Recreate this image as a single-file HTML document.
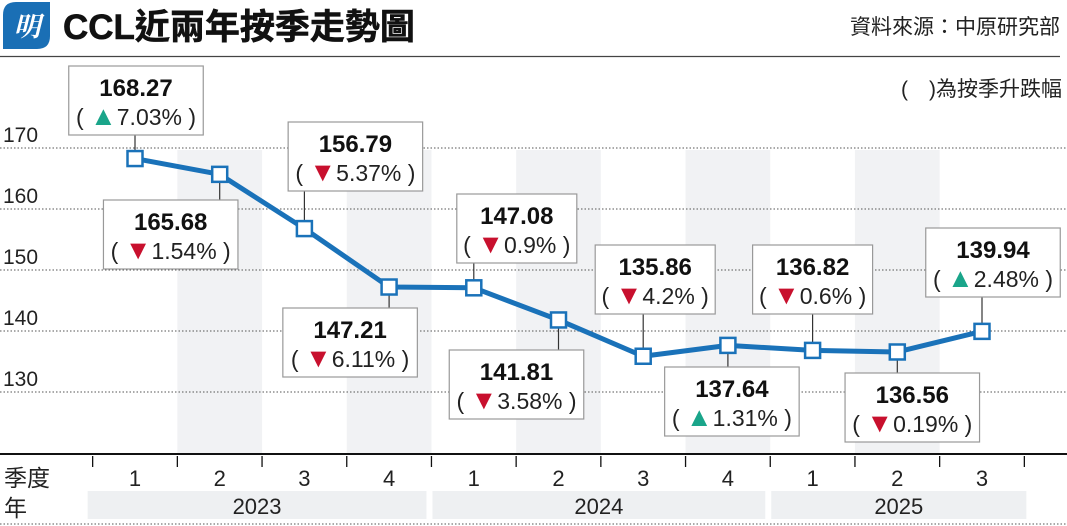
<!DOCTYPE html>
<html><head><meta charset="utf-8"><style>
html,body{margin:0;padding:0;background:#fff;}
svg{display:block;font-family:"Liberation Sans","Noto Sans CJK TC",sans-serif;}
</style></head><body>
<svg id="chart" width="1067" height="526" viewBox="0 0 1067 526" xmlns="http://www.w3.org/2000/svg">
  <g>
    <path d="M16 2 H50 V36 Q50 49 37 49 H3 V15 Q3 2 16 2 Z" fill="#1a6fb5"/>
    <text x="27" y="36" font-size="27" font-weight="bold" fill="#fff" text-anchor="middle" font-style="italic" font-family="Noto Serif CJK SC, serif">明</text>
    <text x="63" y="39" font-size="35" font-weight="bold" fill="#111" stroke="#111" stroke-width="0.6">CCL近兩年按季走勢圖</text>
    <text x="1060" y="34" font-size="21" fill="#222" text-anchor="end">資料來源：中原研究部</text>
    <line x1="0" y1="56.5" x2="1060" y2="56.5" stroke="#444" stroke-width="1.3"/>
    <text x="1062" y="96" font-size="21" fill="#222" text-anchor="end">(　)為按季升跌幅</text>
  </g>
  <g id="bands"></g>
  <g id="grid"></g>
  <g id="axis"></g>
  <g id="connectors"></g>
  <g id="series"></g>
  <g id="labels"></g>
</svg>
<script>
const quarters = ["1","2","3","4","1","2","3","4","1","2","3"];
const years = ["2023","2024","2025"];
const yearCounts = [4,4,3];
const values = [168.27,165.68,156.79,147.21,147.08,141.81,135.86,137.64,136.82,136.56,139.94];
const changes = ["7.03%","1.54%","5.37%","6.11%","0.9%","3.58%","4.2%","1.31%","0.6%","0.19%","2.48%"];
const changeDir = [1,-1,-1,-1,-1,-1,-1,1,-1,-1,1];
const yTicks = [170,160,150,140,130];

// layout
const labelSide = [-1,1,-1,1,-1,1,-1,1,-1,1,-1];
const labelShift = [1,-49,51,-39,43,-42,12,4,0,15,11];
const labelTop = [66,200,122,308,194,350,245,367,245,373,228];

const NS="http://www.w3.org/2000/svg";
const x0=135, dx=84.7;
const xS = i => x0 + i*dx;
const yS = v => 148 + (170 - v)*6.1;
const axisY=454;
function mk(tag, attrs, parent){const e=document.createElementNS(NS,tag);for(const k in attrs)e.setAttribute(k,attrs[k]);parent.appendChild(e);return e;}
const g=id=>document.getElementById(id);

quarters.forEach((q,i)=>{ if(i%2===1){
  const b=mk('rect',{x:xS(i)-dx/2,y:150,width:dx,height:axisY-150,fill:'#f1f2f4'},g('bands'));
  
  
}});
yTicks.forEach(t=>{
  const l=mk('line',{x1:0,x2:1067,y1:yS(t),y2:yS(t),stroke:'#555','stroke-width':1,'stroke-dasharray':'1.5,2'},g('grid'));
  
  
  const tx=mk('text',{x:3,y:yS(t)-6,'font-size':21,fill:'#222'},g('grid'));
  tx.textContent=t;
  
  
});
const ax=mk('line',{x1:0,x2:1067,y1:axisY,y2:axisY,stroke:'#111','stroke-width':2},g('axis'));


for(let i=0;i<=quarters.length;i++){
  const tk=mk('line',{x1:xS(i)-dx/2,x2:xS(i)-dx/2,y1:456,y2:467,stroke:'#111','stroke-width':1.3},g('axis'));
  
  
}
quarters.forEach((q,i)=>{
  const t=mk('text',{x:xS(i),y:486,'font-size':22,fill:'#222','text-anchor':'middle'},g('axis'));
  t.textContent=q;
  
  
});
const qt=mk('text',{x:4,y:486,'font-size':23,fill:'#222'},g('axis'));qt.textContent='季度';


const yt=mk('text',{x:4,y:516,'font-size':23,fill:'#222'},g('axis'));yt.textContent='年';


let start=0;
years.forEach((y,j)=>{
  const last = j===years.length-1;
  const xa=xS(start)-dx/2 + (j>0?1:-5);
  const xb=xS(start+yearCounts[j]-1)+dx/2 + (last?2:-5);
  const r=mk('rect',{x:xa,y:491,width:xb-xa,height:28,fill:'#eef0f2'},g('axis'));
  
  
  const t=mk('text',{x:(xa+xb)/2,y:514,'font-size':22,fill:'#222','text-anchor':'middle'},g('axis'));
  t.textContent=y;
  
  
  start+=yearCounts[j];
});
const bl=mk('line',{x1:0,x2:1067,y1:524,y2:524,stroke:'#555','stroke-width':1,'stroke-dasharray':'1.5,2'},g('axis'));



const pts=values.map((v,i)=>xS(i)+','+yS(v)).join(' ');
const pl=mk('polyline',{points:pts,fill:'none',stroke:'#1a72b9','stroke-width':5,'stroke-linejoin':'round'},g('series'));


values.forEach((v,i)=>{
  const m=mk('rect',{x:xS(i)-7.5,y:yS(v)-7.5,width:15,height:15,fill:'#fff',stroke:'#1a72b9','stroke-width':2.5},g('series'));
  
  
});
values.forEach((v,i)=>{
  const px=xS(i), py=yS(v);
  const w = 62 + changes[i].length*14.5;
  const cx = px + labelShift[i];
  const top = labelTop[i], h=69;
  const c = labelSide[i]<0 ? mk('line',{x1:px,x2:px,y1:top+h,y2:py,stroke:'#333','stroke-width':1.2},g('connectors'))
                           : mk('line',{x1:px,x2:px,y1:py,y2:top,stroke:'#333','stroke-width':1.2},g('connectors'));
  
  
  const grp=mk('g',{},g('labels'));
  
  
  mk('rect',{x:cx-w/2,y:top,width:w,height:h,fill:'#fff',stroke:'#999','stroke-width':1.2},grp);
  const t1=mk('text',{x:cx,y:top+30,'font-size':24,'font-weight':'bold',fill:'#111','text-anchor':'middle'},grp);
  t1.textContent=v.toFixed(2);
  const t2=mk('text',{x:cx,y:top+59,'font-size':23,fill:'#222','text-anchor':'middle'},grp);
  const up=changeDir[i]>0;
  const s1=document.createElementNS(NS,'tspan');s1.textContent='( ';t2.appendChild(s1);
  const s2=document.createElementNS(NS,'tspan');s2.setAttribute('fill',up?'#1aa58a':'#c8102e');s2.setAttribute('font-size','27');s2.textContent=up?'▲':'▼';t2.appendChild(s2);
  const s3=document.createElementNS(NS,'tspan');s3.textContent=changes[i]+' )';t2.appendChild(s3);
});
</script>
</body></html>
